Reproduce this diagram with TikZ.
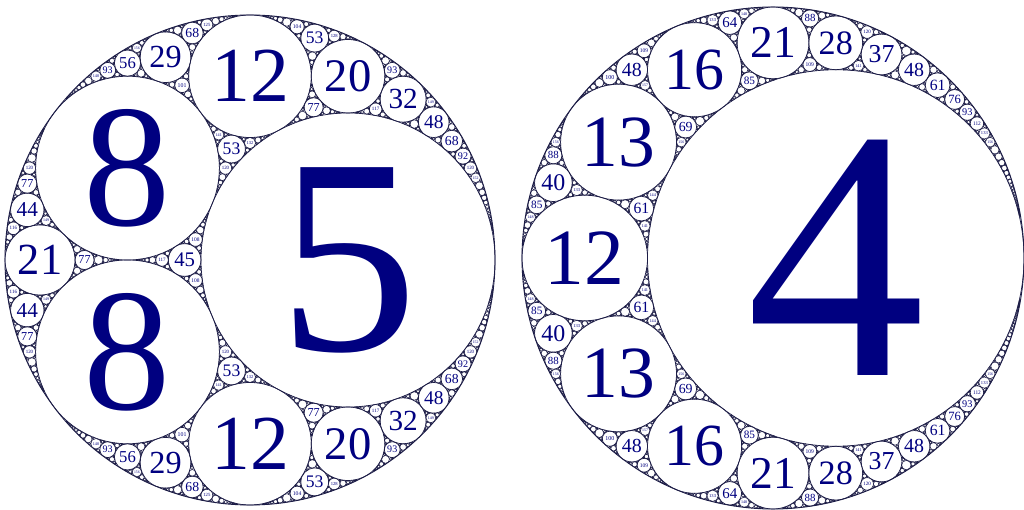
\documentclass[tikz,border=0pt]{standalone}
\usepackage{fontspec}
\setmainfont{Liberation Serif}
\definecolor{navy}{RGB}{0,0,128}
\definecolor{ring}{RGB}{28,28,70}
\tikzset{lab/.style={inner sep=0pt,outer sep=0pt,text=navy},
  outerring/.style={draw=ring,line width=0.9pt}}
\def\Ak#1#2#3{#1}
\def\Ax#1#2#3{#2}
\def\Ay#1#2#3{#3}
\newdimen\ApoCx \newdimen\ApoCy \newdimen\ApoR
\def\ApoKmax{1300}
\def\ApoKlab{160}
\def\ApoDraw#1#2#3{%
  \ifnum#1<120 \pgfsetlinewidth{0.7pt}\else\pgfsetlinewidth{0.55pt}\fi
  \pgfpathcircle{\pgfqpoint{\dimexpr\ApoCx+\ApoR*#2/#1\relax}{\dimexpr\ApoCy+\ApoR*#3/#1\relax}}{\dimexpr\ApoR*3/#1\relax}%
  \pgfusepath{stroke}%
  \ifnum#1<\ApoKlab\relax
    \edef\ApoX{\the\dimexpr\ApoCx+\ApoR*#2/#1\relax}%
    \edef\ApoY{\the\dimexpr\ApoCy+\ApoR*#3/#1\relax}%
    \ifnum#1<10 \edef\ApoFs{\the\dimexpr\ApoR*3/#1*19/10\relax}%
    \else\ifnum#1<100 \edef\ApoFs{\the\dimexpr\ApoR*3/#1*127/100\relax}%
    \else \edef\ApoFs{\the\dimexpr\ApoR*3/#1*4/5\relax}\fi\fi
    \node[lab,font=\fontsize{\ApoFs}{\ApoFs}\selectfont] (c#1x#2y#3) at (\ApoX,\ApoY) {#1};%
  \fi}
\def\ApoRec#1#2#3#4{%
  \ApoStep{#2}{#3}{#4}{#1}%
  \ApoStep{#3}{#4}{#1}{#2}%
  \ApoStep{#4}{#1}{#2}{#3}}
\def\ApoStep#1#2#3#4{%
  \edef\ApoE{{\the\numexpr2*(\Ak#2+\Ak#3+\Ak#4)-\Ak#1\relax}{\the\numexpr2*(\Ax#2+\Ax#3+\Ax#4)-\Ax#1\relax}{\the\numexpr2*(\Ay#2+\Ay#3+\Ay#4)-\Ay#1\relax}}%
  \expandafter\ApoCheck\ApoE{#2}{#3}{#4}}
\def\ApoCheck#1#2#3#4#5#6{%
  \ifnum#1>\ApoKmax\relax\else
    \ApoDraw{#1}{#2}{#3}%
    \ApoRec{{#1}{#2}{#3}}{#4}{#5}{#6}%
  \fi}
% #1 outer (negative), #2 #3 #4 inner circles
\def\ApoGasket#1#2#3#4{%
  \ApoDraw#2\ApoDraw#3\ApoDraw#4%
  \ApoStep{#1}{#2}{#3}{#4}\ApoStep{#2}{#3}{#4}{#1}%
  \ApoStep{#3}{#4}{#1}{#2}\ApoStep{#4}{#1}{#2}{#3}}
\begin{document}
\begin{tikzpicture}
\useasboundingbox[fill=white] (0pt,0pt) rectangle (1024pt,510pt);
% left gasket: curvatures -3, 5, 8, 8
\begin{scope}
  \pgfsetstrokecolor{ring}
  \ApoCx=250pt \ApoCy=250pt \ApoR=245pt
  \draw[outerring] (250pt,250pt) circle[radius=245pt];
  \ApoGasket{{-3}{0}{0}}{{5}{2}{0}}{{8}{-4}{3}}{{8}{-4}{-3}}
\end{scope}
% right gasket: curvatures -3, 4, 12, 13, 13
\begin{scope}
  \pgfsetstrokecolor{ring}
  \ApoCx=773pt \ApoCy=252pt \ApoR=251pt
  \draw[outerring] (773pt,252pt) circle[radius=251pt];
  \ApoGasket{{-3}{0}{0}}{{4}{1}{0}}{{12}{-9}{0}}{{13}{-8}{6}}
\end{scope}
\end{tikzpicture}
\end{document}
